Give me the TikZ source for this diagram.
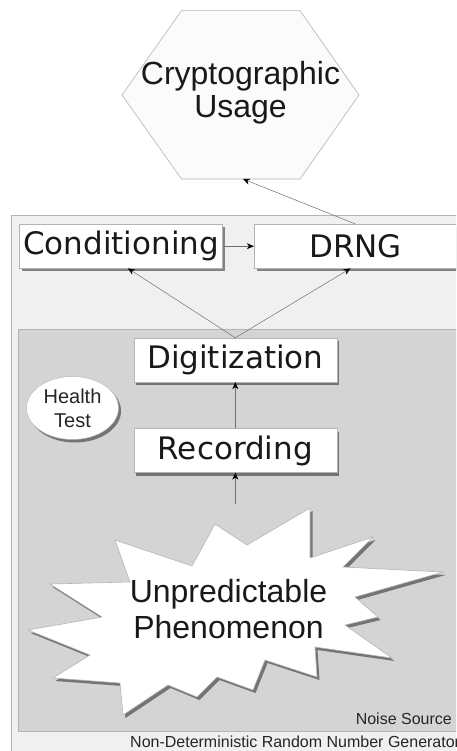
\documentclass[tikz,border=0pt]{standalone}
\usepackage{fontspec}
\setmainfont{Liberation Sans}
\newfontfamily\dejavu{DejaVu Sans}
\usetikzlibrary{arrows.meta,shadows,calc,shapes.geometric}
\definecolor{outerfill}{HTML}{F0F0F0}
\definecolor{innerfill}{HTML}{D4D4D4}
\definecolor{hexfill}{HTML}{FBFBFB}
\definecolor{edgegray}{HTML}{B4B4B4}
\definecolor{linegray}{HTML}{707070}
\begin{document}
\begin{tikzpicture}[x=1pt,y=-1pt,
  boxsh/.style={drop shadow={shadow xshift=2.5pt,shadow yshift=-3pt,fill=black,opacity=0.45}},
  stagebox/.style={boxsh,draw=edgegray,fill=white,minimum width=203pt,minimum height=44pt,
     inner sep=0pt,font=\dejavu\fontsize{31}{31}\selectfont,text=black!90},
  conn/.style={draw=linegray,line width=0.5pt,-{Stealth[length=7pt,width=6pt,black]}},
  smalllabel/.style={font=\fontsize{16}{18}\selectfont,text=black!85,inner sep=0pt}]
\useasboundingbox (0,0) rectangle (456,751);
\clip (0,0) rectangle (456,751);
\fill[white] (0,0) rectangle (456,751);

% hexagon
\draw[draw=edgegray,fill=hexfill,line width=0.6pt]
  (122,95) -- (181.5,10.7) -- (300,10.7) -- (359,95) -- (300,179) -- (181.5,179) -- cycle;
\node[font=\fontsize{32}{33}\selectfont,align=center,text=black!90,inner sep=0pt] (crypto) at (240.5,93) {Cryptographic\\Usage};
\coordinate (hexb) at (243,179);

% outer NDRNG box
\draw[draw=edgegray,fill=outerfill,line width=0.6pt] (11,215) rectangle (480,790);
% inner noise source box
\draw[draw=edgegray,fill=innerfill,line width=0.6pt] (18.3,329.3) rectangle (480,731.5);

\node[stagebox] (cond) at (121,246.2) {Conditioning};
\node[stagebox] (drng) at (355.5,246.2) {DRNG};
\node[stagebox] (dig) at (235.3,360) {Digitization};
\node[stagebox] (rec) at (235.3,450.5) {Recording};

\node[boxsh,ellipse,draw=edgegray,fill=white,minimum width=92pt,minimum height=63pt,inner sep=0pt,
      align=center,font=\fontsize{20}{24}\selectfont,text=black!85] (health) at (72.5,408) {Health\\Test};

% starburst
\fill[black,opacity=0.45,shift={(2.5,3)}]
  (310,508) -- (310,558) -- (373,537) -- (343,567) -- (443,572) -- (355,597) -- (378,617)
  -- (345,625) -- (392,658) -- (315,647) -- (317,677) -- (265,660) -- (253,690) -- (217,677)
  -- (197,697) -- (168,685) -- (123,715) -- (120,683) -- (53,678) -- (90,655) -- (28,630)
  -- (102,617) -- (50,584) -- (130,582) -- (115,540) -- (192,566) -- (215,524) -- (247,545) -- cycle;
\draw[draw=edgegray,fill=white,line width=0.6pt]
  (310,508) -- (310,558) -- (373,537) -- (343,567) -- (443,572) -- (355,597) -- (378,617)
  -- (345,625) -- (392,658) -- (315,647) -- (317,677) -- (265,660) -- (253,690) -- (217,677)
  -- (197,697) -- (168,685) -- (123,715) -- (120,683) -- (53,678) -- (90,655) -- (28,630)
  -- (102,617) -- (50,584) -- (130,582) -- (115,540) -- (192,566) -- (215,524) -- (247,545) -- cycle;
\node[font=\fontsize{32}{36}\selectfont,align=center,text=black!90,inner sep=0pt] (phen) at (228.5,609) {Unpredictable\\Phenomenon};
\coordinate (bursttop) at (235.3,504);

% labels
\node[smalllabel,anchor=base east] (noise) at (452,724) {Noise Source};
\node[smalllabel,anchor=base west] (ndrng) at (130,747) {Non-Deterministic Random Number Generator};

% connectors
\draw[conn] (bursttop) -- (rec.south);
\draw[conn] (rec.north) -- (dig.south);
\draw[conn] (dig.north) -- ([xshift=7pt]cond.south);
\draw[conn] (dig.north) -- ([xshift=-5pt]drng.south);
\draw[conn] (cond.east) -- (drng.west);
\draw[conn] (drng.north) -- (hexb);
\end{tikzpicture}
\end{document}
